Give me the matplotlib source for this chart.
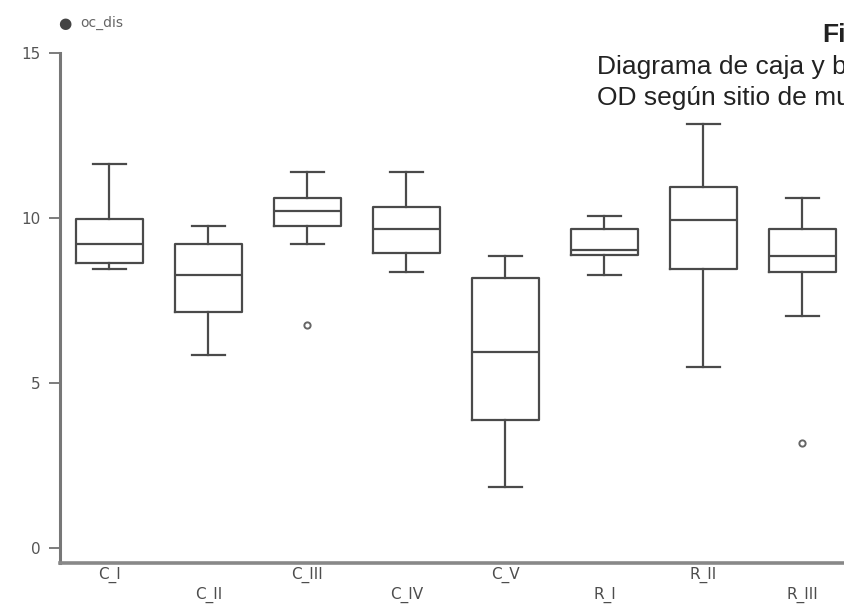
import matplotlib.pyplot as plt

# box statistics (oc_dis by sampling site)
sites = ["C_I", "C_II", "C_III", "C_IV", "C_V", "R_I", "R_II", "R_III"]
whislo = [8.45, 5.86, 9.21, 8.36, 1.85, 8.26, 5.48, 7.04]
q1 = [8.64, 7.14, 9.77, 8.94, 3.89, 8.87, 8.45, 8.36]
med = [9.21, 8.26, 10.20, 9.67, 5.94, 9.02, 9.95, 8.86]
q3 = [9.98, 9.22, 10.61, 10.33, 8.18, 9.67, 10.93, 9.68]
whishi = [11.65, 9.77, 11.41, 11.41, 8.84, 10.05, 12.85, 10.61]
fliers = [[], [], [6.77], [], [], [], [], [3.18]]

yticks = [0, 5, 10, 15]

stats = []
for i, name in enumerate(sites):
    stats.append(dict(label=name, whislo=whislo[i], q1=q1[i], med=med[i],
                      q3=q3[i], whishi=whishi[i], fliers=fliers[i]))

plt.rcParams['font.family'] = ['DejaVu Sans']

fig = plt.figure(figsize=(8.44, 6.06), dpi=100)
ax = fig.add_axes([60 / 844, 1 - 563 / 606, 1 - 60 / 844, (563 - 53) / 606])

line_col = "#4a4a4a"
ax.bxp(stats, positions=range(len(sites)), widths=0.67, showfliers=True,
       boxprops=dict(color=line_col, linewidth=1.6),
       medianprops=dict(color=line_col, linewidth=1.6),
       whiskerprops=dict(color=line_col, linewidth=1.6),
       capprops=dict(color=line_col, linewidth=1.6),
       flierprops=dict(marker='o', markersize=4.5, markerfacecolor='none',
                       markeredgecolor='#666666', markeredgewidth=1.4))

ax.set_xlim(-0.5, 7.42)
ax.set_ylim(-0.45, 15)
ax.set_yticks(yticks)
ax.set_yticklabels([str(t) for t in yticks], color="#555555", fontsize=11)

# labels alternate between two rows
labels = [s if i % 2 == 0 else "\n" + s for i, s in enumerate(sites)]
ax.set_xticks(range(len(sites)))
ax.set_xticklabels(labels, color="#4d4d4d", fontsize=11, linespacing=1.35)
ax.tick_params(axis='x', length=0, pad=3)
ax.tick_params(axis='y', length=8, width=1.2, color="#666666", pad=6)

for side in ["top", "right"]:
    ax.spines[side].set_visible(False)
ax.spines["left"].set_color("#777777")
ax.spines["left"].set_linewidth(2.2)
ax.spines["left"].set_bounds(-0.45, 15)
ax.spines["bottom"].set_color("#888888")
ax.spines["bottom"].set_linewidth(2.6)

# variable name at the top left
fig.text(65 / 844, 1 - 23 / 606, "\u25cf", color="#444444", fontsize=11,
         va="center", ha="center")
fig.text(80 / 844, 1 - 23 / 606, "oc_dis", color="#666666", fontsize=10,
         va="center", ha="left")

# caption, cut at the right edge as in the original
cap = dict(family=['Liberation Sans', 'DejaVu Sans'], fontsize=19,
           color="#222222", va="baseline", ha="left")
fig.text(822 / 844, 1 - 42 / 606, "Figura", fontweight="bold", **cap)
fig.text(597 / 844, 1 - 74 / 606, "Diagrama de caja y bigotes de", **cap)
fig.text(597 / 844, 1 - 105 / 606, "OD según sitio de muestreo", **cap)

fig.savefig("out.png", dpi=100)
